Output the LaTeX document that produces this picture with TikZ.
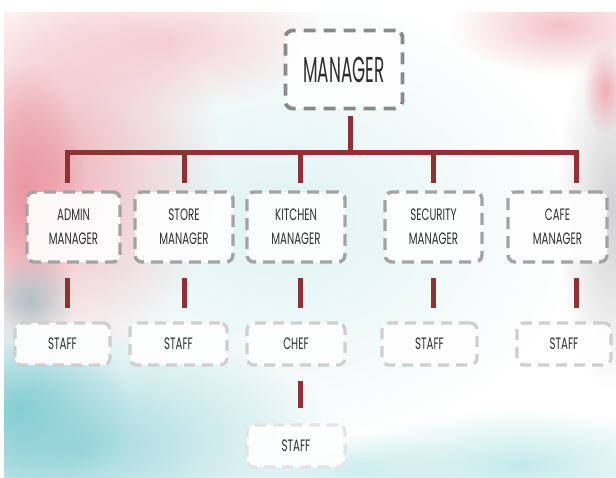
\documentclass[tikz,border=0pt]{standalone}
\usepackage{fontspec}
\setmainfont{Poppins}
\usetikzlibrary{fadings}
\tikzfading[name=softfade, inner color=transparent!0, outer color=transparent!100]
\definecolor{conn}{HTML}{8E3234}
\definecolor{boxA}{HTML}{8A8A8A}
\definecolor{boxB}{HTML}{A3A3A3}
\definecolor{boxC}{HTML}{CFCFCF}
\definecolor{boxD}{HTML}{E4E4E4}
\definecolor{txt}{HTML}{2E2E2E}
\definecolor{bgA}{HTML}{E0F3F3}
\definecolor{bgB}{HTML}{F0B0B8}
\definecolor{bgC}{HTML}{EA98A2}
\definecolor{bgD}{HTML}{9FD8DC}
\definecolor{bgE}{HTML}{86CED3}
\definecolor{bgF}{HTML}{B0C2C6}
\definecolor{bgG}{HTML}{F4C2C8}
\definecolor{bgH}{HTML}{D2D2D4}
\definecolor{bgI}{HTML}{F0AEB5}
\definecolor{bgJ}{HTML}{C4EAEC}
\definecolor{bgK}{HTML}{CDEDEF}
\definecolor{bgL}{HTML}{F6D0D4}
\newcommand\sq[1]{\scalebox{0.62}[1]{#1}}
\newcommand\sqtop[1]{\raisebox{-3pt}{\scalebox{0.47}[1]{#1}}}
\tikzset{
  blob/.style={fill=#1, path fading=softfade},
  orgbox/.style={draw, dashed, rounded corners=7pt, fill=white, fill opacity=0.92, text opacity=1,
    inner sep=0pt, align=center, text=txt},
  topbox/.style={orgbox, draw=boxA, line width=3.8pt, dash pattern=on 12pt off 8pt,
    minimum width=117pt, minimum height=78pt, font=\fontsize{36}{38}\selectfont},
  midbox/.style={orgbox, draw=boxB, line width=3.4pt, dash pattern=on 12pt off 7pt,
    minimum height=70pt, font=\fontsize{16.5}{24}\selectfont},
  staffbox/.style={orgbox, draw=boxC, line width=3.2pt, dash pattern=on 11pt off 7pt,
    minimum height=42pt, font=\fontsize{16.5}{24}\selectfont},
  lastbox/.style={staffbox, draw=boxD},
  link/.style={draw=conn, line width=5pt},
}
\begin{document}
\begin{tikzpicture}[x=1pt,y=-1pt]
\useasboundingbox (0,0) rectangle (616,477);
% watercolor background
\fill[white] (0,0) rectangle (616,477);
\begin{scope}
\clip (4,12) rectangle (616,477);
\fill[blob=bgA] (280,220) ellipse (300 and 230);
\fill[blob=bgL] (170,40) ellipse (160 and 70);
\fill[blob=bgB] (50,170) ellipse (170 and 200);
\fill[blob=bgC] (25,190) ellipse (60 and 130);
\fill[blob=bgD] (80,445) ellipse (260 and 120);
\fill[blob=bgE] (20,410) ellipse (110 and 90);
\fill[blob=bgF] (30,300) ellipse (45 and 45);
\fill[blob=bgG] (560,25) ellipse (110 and 50);
\fill[blob=bgH] (612,210) ellipse (55 and 180);
\fill[blob=bgI] (605,90) ellipse (22 and 45);
\fill[blob=bgJ] (520,465) ellipse (190 and 55);
\fill[blob=bgK] (360,470) ellipse (140 and 35);
\end{scope}
% nodes
\node[topbox] (mgr) at (344,69.5) {\sqtop{MANAGER}};
\node[midbox, minimum width=93pt] (admin) at (73.5,227) {\sq{ADMIN}\\\sq{MANAGER}};
\node[midbox, minimum width=98pt] (store) at (184,227) {\sq{STORE}\\\sq{MANAGER}};
\node[midbox, minimum width=98pt] (kitchen) at (296,227) {\sq{KITCHEN}\\\sq{MANAGER}};
\node[midbox, minimum width=97pt] (security) at (433.5,227) {\sq{SECURITY}\\\sq{MANAGER}};
\node[midbox, minimum width=99pt] (cafe) at (557.5,227) {\sq{CAFE}\\\sq{MANAGER}};
\node[staffbox, minimum width=95pt] (adminstaff) at (62.5,344) {\sq{STAFF}};
\node[staffbox, minimum width=97pt] (storestaff) at (178.5,344) {\sq{STAFF}};
\node[staffbox, minimum width=98pt] (chef) at (296,344) {\sq{CHEF}};
\node[staffbox, minimum width=95pt] (secstaff) at (429.5,344) {\sq{STAFF}};
\node[staffbox, minimum width=94pt] (cafestaff) at (564,344) {\sq{STAFF}};
\node[lastbox, minimum width=98pt] (chefstaff) at (296,446) {\sq{STAFF}};
% connector points
\coordinate (top) at (350,152);
\coordinate (d1) at (67,152);
\coordinate (d2) at (184,152);
\coordinate (d3) at (300,152);
\coordinate (d4) at (433,152);
\coordinate (d5) at (576,152);
\draw[link, shorten <=6pt] (top |- mgr.south) -- (top);
\draw[link, line cap=rect] (d1) -- (d5);
\foreach \d/\n in {d1/admin,d2/store,d3/kitchen,d4/security,d5/cafe}
  \draw[link, shorten >=7pt] (\d) -- (\d |- \n.north);
\foreach \d/\a/\b in {d1/admin/adminstaff,d2/store/storestaff,d3/kitchen/chef,d4/security/secstaff,d5/cafe/cafestaff}
  \draw[link, shorten <=14pt, shorten >=13pt] (\d |- \a.south) -- (\d |- \b.north);
\draw[link, shorten <=14pt, shorten >=15pt] (d3 |- chef.south) -- (d3 |- chefstaff.north);
\end{tikzpicture}
\end{document}
